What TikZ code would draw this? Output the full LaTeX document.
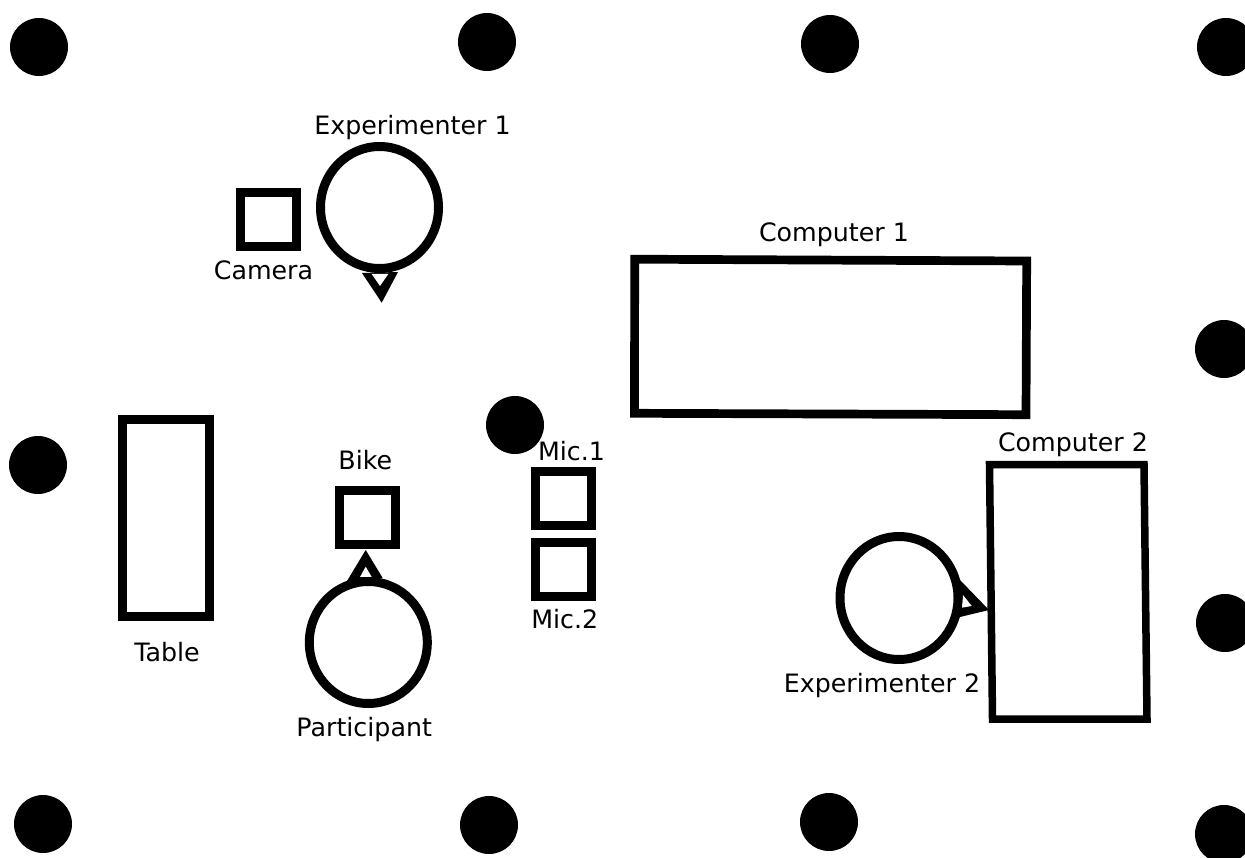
\documentclass[tikz,border=0pt]{standalone}
\usepackage{fontspec}
\setmainfont{DejaVu Sans}
\tikzset{
 x=1pt,y=-1pt,
 dot/.style={fill=black,draw=none},
 outl/.style={draw=black,line width=9pt,fill=none,line join=miter},
 widebox/.style={outl,line width=8.7pt},
 thinbox/.style={outl,line width=7.5pt},
 head/.style={draw=black,line width=9pt,fill=white},
 lab/.style={font=\fontsize{25.3}{28}\selectfont,inner sep=0pt,text=black,anchor=base}
}
\begin{document}
\begin{tikzpicture}
\useasboundingbox (0,0) rectangle (1245,858);
\clip (0,0) rectangle (1245,858);
\fill[white] (0,0) rectangle (1245,858);
% dots
\foreach \cx/\cy in {39/47,487/42,830/44,1226/47,1224/349,1225/623,38/465,515/425,43/824,489/825,829/822,1224/834}
  \fill[dot] (\cx,\cy) circle[radius=29];
% noses
\fill[black] (362,273) -- (398,272) -- (381.7,302.7) -- cycle;
\fill[white] (371.7,274) -- (388.3,274) -- (380,286) -- cycle;
\fill[black] (347,581) -- (382.7,578) -- (365.7,550) -- cycle;
\fill[white] (360,577) -- (371.7,577) -- (365.7,566.7) -- cycle;
\fill[black] (960,580) -- (989,610) -- (960,617) -- cycle;
\fill[white] (963,595) -- (971.7,606) -- (961.7,607.7) -- cycle;
% people
\draw[head] (379.5,207.5) ellipse[x radius=59,y radius=61];
\draw[head] (368.3,642.5) ellipse[x radius=59,y radius=61];
\draw[head] (899,598) ellipse[x radius=59,y radius=61.5];
% boxes
\draw[outl] (240.5,192.5) rectangle (296.5,246.5);
\draw[outl] (339.5,490.5) rectangle (395.5,544);
\draw[outl] (535,471.5) rectangle (591,525);
\draw[outl] (535,542.5) rectangle (591,596);
\draw[outl] (122.2,419.5) rectangle (209.8,616.5);
\draw[widebox] (634.7,259.2) -- (1026.7,261) -- (1026,414.7) -- (634.5,413.3) -- cycle;
\draw[thinbox] (989.5,464.5) -- (1144,464.5) -- (1147,719) -- (992.5,719) -- cycle;
% labels
\node[lab] (exp1) at (412.5,135) {Experimenter 1};
\node[lab] (cam) at (263.5,279.3) {Camera};
\node[lab] (comp1) at (834,242) {Computer 1};
\node[lab] (comp2) at (1073,451) {Computer 2};
\node[lab] (mic1) at (571.5,460) {Mic.1};
\node[lab] (mic2) at (564.7,628) {Mic.2};
\node[lab] (bike) at (365.3,469) {Bike};
\node[lab] (table) at (167,661) {Table};
\node[lab] (part) at (364.2,736) {Participant};
\node[lab] (exp2) at (882,692.7) {Experimenter 2};
\end{tikzpicture}
\end{document}
